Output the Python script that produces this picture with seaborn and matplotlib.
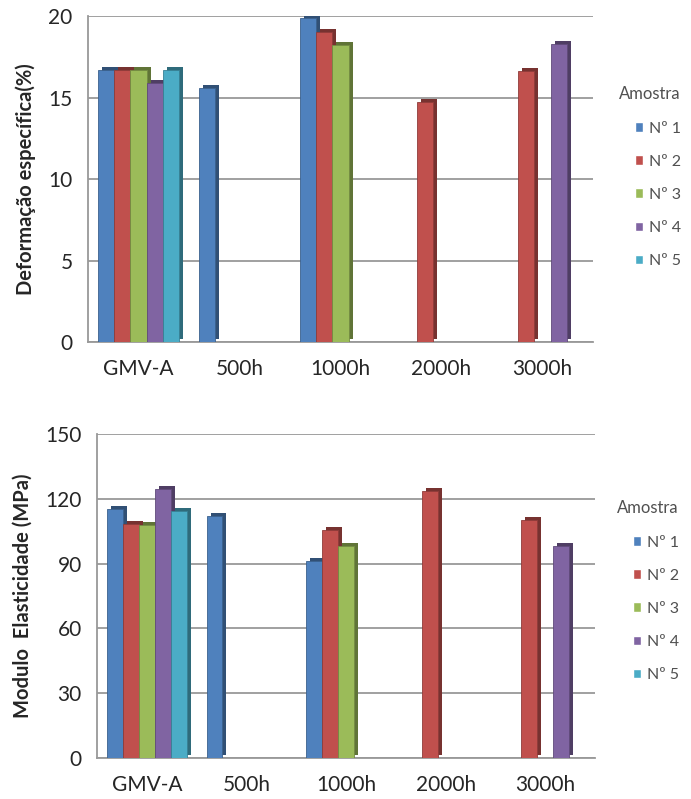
import numpy as np
import pandas as pd
import seaborn as sns
import matplotlib
matplotlib.use("Agg")
import matplotlib.pyplot as plt
import matplotlib.transforms as mtrans
from matplotlib.patches import Rectangle
from matplotlib.colors import to_rgb

# ---- data -------------------------------------------------------------
tempos = ["GMV-A", "500h", "1000h", "2000h", "3000h"]
amostras = ["Nº 1", "Nº 2", "Nº 3", "Nº 4", "Nº 5"]
cores = ["#4F81BD", "#C0504D", "#9BBB59", "#8064A2", "#4BACC6"]

nan = np.nan
# Deformação específica (%)
def_n1 = [16.7, 15.6, 19.9, nan, nan]
def_n2 = [16.7, nan, 19.0, 14.7, 16.6]
def_n3 = [16.7, nan, 18.2, nan, nan]
def_n4 = [15.9, nan, nan, nan, 18.3]
def_n5 = [16.7, nan, nan, nan, nan]

# Modulo de elasticidade (MPa)
mod_n1 = [115.5, 112.0, 91.0, nan, nan]
mod_n2 = [108.5, nan, 105.5, 123.5, 110.0]
mod_n3 = [108.0, nan, 98.0, nan, nan]
mod_n4 = [124.5, nan, nan, nan, 98.0]
mod_n5 = [114.5, nan, nan, nan, nan]

y_def_ticks = [0, 5, 10, 15, 20]
y_mod_ticks = [0, 30, 60, 90, 120, 150]


def long_table(series):
    rows = []
    for amostra, vals in zip(amostras, series):
        for tempo, v in zip(tempos, vals):
            if np.isfinite(v):
                rows.append({"Tempo": tempo, "Amostra": amostra, "Valor": v})
    return pd.DataFrame(rows)


df_def = long_table([def_n1, def_n2, def_n3, def_n4, def_n5])
df_mod = long_table([mod_n1, mod_n2, mod_n3, mod_n4, mod_n5])

# ---- style ------------------------------------------------------------
sns.set_theme(style="white")
plt.rcParams["font.family"] = ["Lato", "DejaVu Sans"]

GRID = "#999999"
TXT = "#262626"
LEG = "#505050"

fig = plt.figure(figsize=(6.91, 7.99), dpi=100)
ax1 = fig.add_axes([88 / 691, 1 - 342 / 799, 505 / 691, 326 / 799])
ax2 = fig.add_axes([97 / 691, 1 - 758 / 799, 498 / 691, 324 / 799])


def add_depth(ax, dx=4.0, dy=3.0):
    """Give each column a shaded side so it reads as a solid block."""
    f = ax.figure
    shift = mtrans.ScaledTranslation(dx / f.dpi, dy / f.dpi, f.dpi_scale_trans)
    for bar in list(ax.patches):
        h = bar.get_height()
        if not np.isfinite(h) or h == 0:
            continue
        c = np.array(to_rgb(bar.get_facecolor()))
        bar.set_edgecolor(tuple(c * 0.75))
        bar.set_linewidth(0.6)
        back = Rectangle(bar.get_xy(), bar.get_width(), h,
                         transform=ax.transData + shift,
                         facecolor=tuple(c * 0.62), edgecolor="none",
                         zorder=bar.get_zorder() - 0.05)
        ax.add_patch(back)


def draw_panel(ax, df, yticks, ylabel, legend_anchor):
    sns.barplot(data=df, x="Tempo", y="Valor", hue="Amostra",
                order=tempos, hue_order=amostras, palette=cores,
                errorbar=None, width=0.8, saturation=1, ax=ax,
                zorder=3)
    add_depth(ax)

    ax.set_ylim(yticks[0], yticks[-1])
    ax.set_yticks(yticks)
    ax.set_xlim(-0.5, len(tempos) - 0.5)
    ax.yaxis.grid(True, color=GRID, linewidth=1.3)
    ax.set_axisbelow(True)

    for side in ("top", "right"):
        ax.spines[side].set_visible(False)
    for side in ("left", "bottom"):
        ax.spines[side].set_color(GRID)
        ax.spines[side].set_linewidth(1.3)

    ax.set_xticks(np.arange(-0.5, len(tempos)), minor=True)
    ax.tick_params(axis="x", which="major", length=0, pad=12,
                   labelsize=15, labelcolor=TXT)
    ax.tick_params(axis="x", which="minor", length=5, width=1.1,
                   color=GRID, direction="out")
    ax.tick_params(axis="y", length=5, width=1.1, color=GRID,
                   direction="out", labelsize=15, labelcolor=TXT, pad=6)

    ax.set_xlabel("")
    ax.set_ylabel(ylabel, fontsize=14.5, fontweight="bold", color=TXT,
                  labelpad=9)

    handles, labels = ax.get_legend_handles_labels()
    if ax.get_legend() is not None:
        ax.get_legend().remove()
    fig.legend(handles, labels, title="Amostra", loc="upper left",
               bbox_to_anchor=legend_anchor, frameon=False,
               fontsize=11.5, title_fontsize=12, alignment="right",
               handlelength=0.55, handleheight=0.55, handletextpad=0.35,
               labelspacing=1.2, labelcolor=LEG)
    leg = fig.legends[-1]
    leg.get_title().set_color(LEG)


draw_panel(ax1, df_def, y_def_ticks, "Deformação específica(%)",
           (605 / 691, 1 - 72 / 799))
draw_panel(ax2, df_mod, y_mod_ticks, "Modulo  Elasticidade (MPa)",
           (603 / 691, 1 - 486 / 799))

fig.savefig("out.png", dpi=100, facecolor="white")
